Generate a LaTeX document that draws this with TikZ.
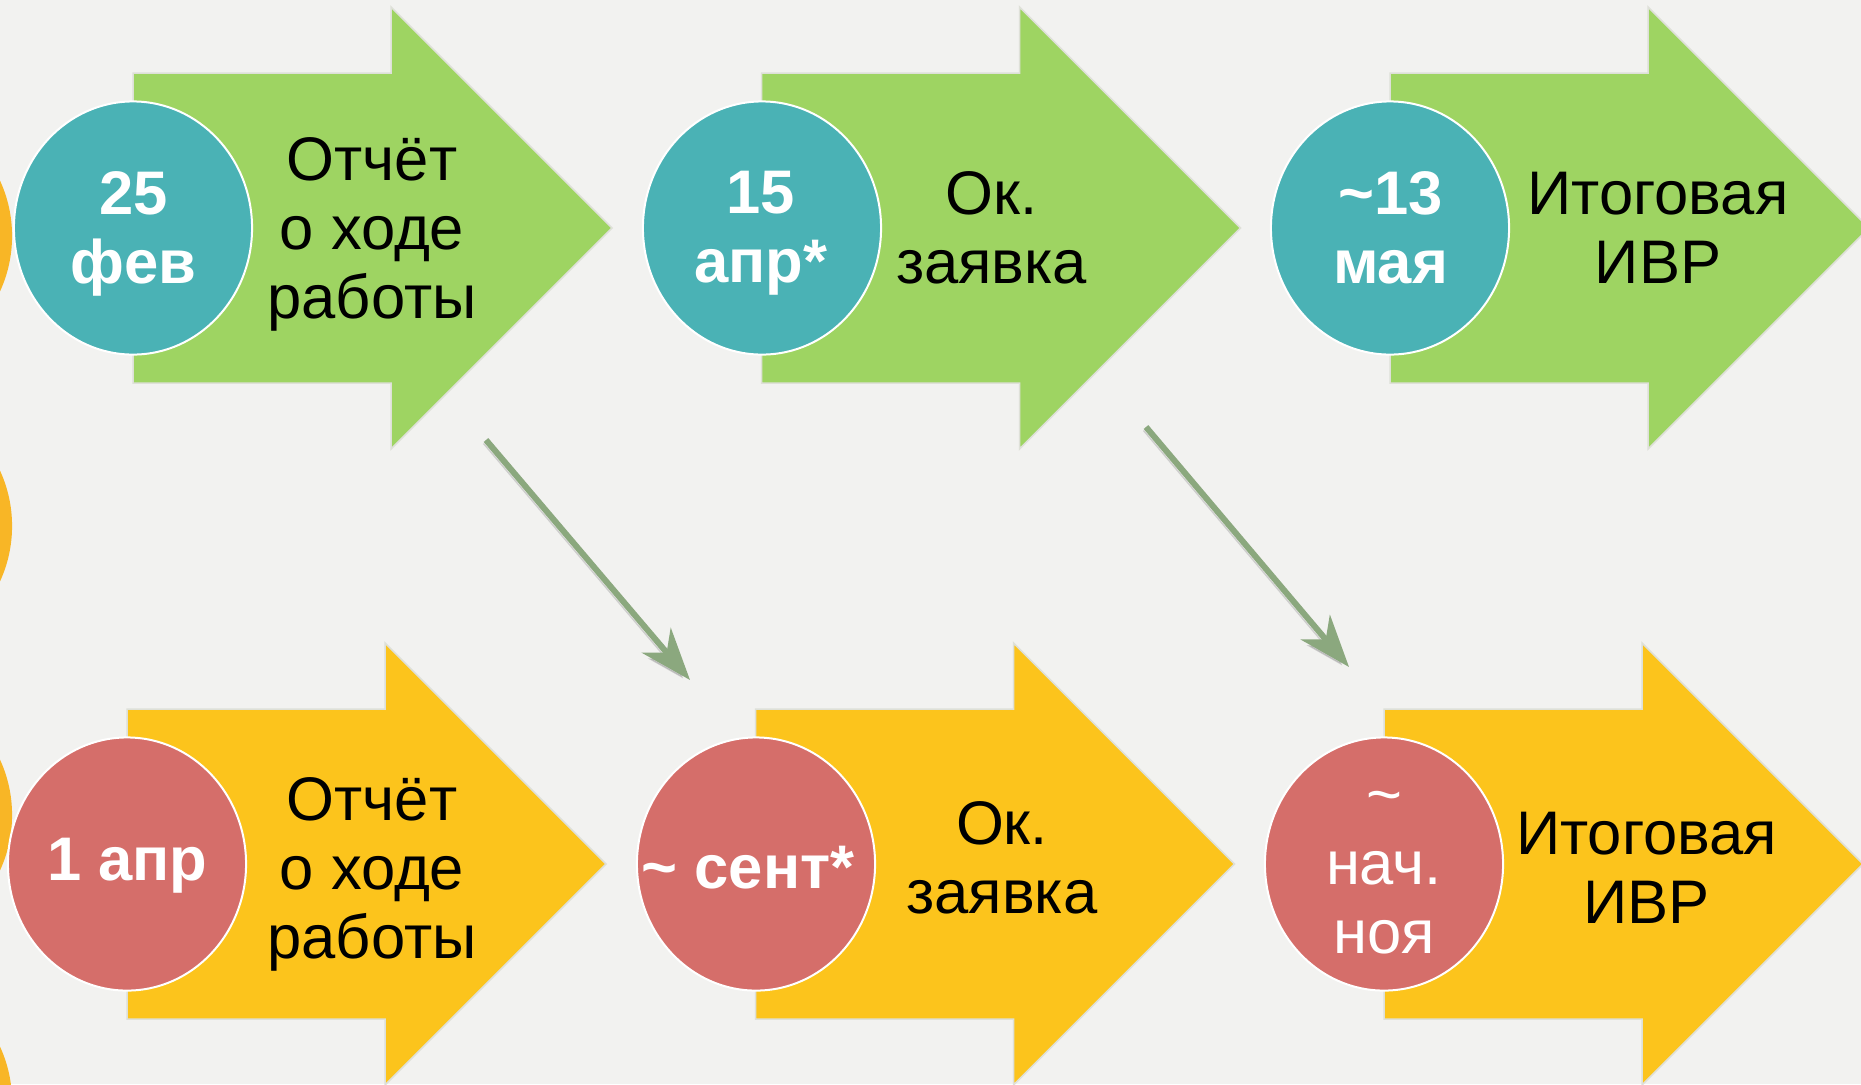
\documentclass[tikz,border=0pt]{standalone}
\usepackage{fontspec}
\setmainfont{Liberation Sans}
\usetikzlibrary{shapes.geometric,arrows.meta}
\definecolor{bgcol}{RGB}{242,242,240}
\definecolor{stepgreen}{RGB}{158,212,98}
\definecolor{stepyellow}{RGB}{252,196,28}
\definecolor{dateteal}{RGB}{74,178,181}
\definecolor{datered}{RGB}{213,110,106}
\definecolor{sideorange}{RGB}{248,182,38}
\definecolor{linkgreen}{RGB}{139,168,126}
\definecolor{stepedge}{RGB}{222,224,216}
\begin{document}
\begin{tikzpicture}[x=0.01cm, y=-0.01cm,
        datecirc/.style = {ellipse, draw=white, line width=0.02cm, inner sep=0pt,
                           minimum width=2.38cm, minimum height=2.53cm},
        datelbl/.style  = {font=\bfseries\fontsize{17.5}{19.6}\selectfont, text=white,
                           align=center, anchor=base, inner sep=0pt},
        tasklbl/.style  = {font=\fontsize{17.5}{19.6}\selectfont,
                           align=center, anchor=base, inner sep=0pt},
        stepflow/.style = {draw=stepedge, line width=0.015cm},
        link/.style     = {draw=linkgreen, line width=0.06cm,
                           -{Stealth[length=0.52cm, width=0.38cm, inset=0.16cm]},
                           preaction={draw=black!45, opacity=.35,
                                      transform canvas={shift={(-0.025cm,-0.035cm)}}}}
    ]
    \useasboundingbox (0,0) rectangle (1861,1084);
    \clip (0,0) rectangle (1861,1084);
    \fill[bgcol] (0,0) rectangle (1861,1084);
    \foreach \cy in {236,526,815,1102}
        \fill[sideorange] (-107,\cy) ellipse [x radius=1.19cm, y radius=1.26cm];
    \foreach \sx/\cy/\col in {133/228/stepgreen, 761.5/228/stepgreen, 1390/228/stepgreen,
                              127/864/stepyellow, 755.5/864/stepyellow, 1384/864/stepyellow}
        \filldraw[stepflow, fill=\col] (\sx,\cy) ++(0,-155) -- ++(258,0) -- ++(0,-66)
            -- ++(221,221) -- ++(-221,221) -- ++(0,-66) -- ++(-258,0) -- cycle;

    \node[datecirc, fill=dateteal] (feb) at (133,228) {};
    \node[datecirc, fill=dateteal] (apr) at (762,228) {};
    \node[datecirc, fill=dateteal] (may) at (1390,228) {};
    \node[datecirc, fill=datered] (aprB) at (127,864) {};
    \node[datecirc, fill=datered] (sep) at (756,864) {};
    \node[datecirc, fill=datered] (nov) at (1384,864) {};

    \node[datelbl] (febtxt) at (133.5,283) {25\\фев};
    \node[datelbl] (aprtxt) at (761,282) {15\\апр*};
    \node[datelbl] (maytxt) at (1390.5,283) {\textasciitilde13\\мая};
    \node[datelbl] (aprBtxt) at (127.5,880) {1 апр};
    \node[datelbl] (septxt) at (748,888) {\textasciitilde\ сент*};
    \node[datelbl, font=\fontsize{17.5}{19.6}\selectfont] (novtxt) at (1384,953) {\textasciitilde\\нач.\\ноя};

    \node[tasklbl] (rep) at (372,318) {Отчёт\\о ходе\\работы};
    \node[tasklbl] (app) at (991.5,283) {Ок.\\заявка};
    \node[tasklbl] (fin) at (1658,283) {Итоговая\\ИВР};
    \node[tasklbl] (repB) at (372,958) {Отчёт\\о ходе\\работы};
    \node[tasklbl] (appB) at (1002,913) {Ок.\\заявка};
    \node[tasklbl] (finB) at (1646.5,923) {Итоговая\\ИВР};

    \coordinate (linkA) at (486,440);
    \coordinate (linkAend) at (690,680);
    \coordinate (linkB) at (1146,427);
    \coordinate (linkBend) at (1349,667);
    \draw[link] (linkA) -- (linkAend);
    \draw[link] (linkB) -- (linkBend);
\end{tikzpicture}
\end{document}
